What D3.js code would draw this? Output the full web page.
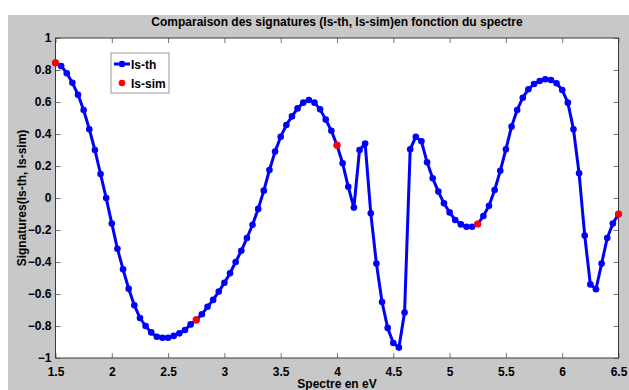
<!DOCTYPE html>
<html>
<head>
<meta charset="utf-8">
<script src="https://d3js.org/d3.v7.min.js"></script>
<style>
  body { margin: 0; background: #fff; }
  text { font-family: Arial, "Liberation Sans", Helvetica, sans-serif; font-weight: bold; }
</style>
</head>
<body>
<div id="chart"></div>
<script>
// spectre (eV) et signatures
var energies = [1.5, 1.55, 1.6, 1.65, 1.7, 1.75, 1.8, 1.85, 1.9, 1.95,
  2.0, 2.05, 2.1, 2.15, 2.2, 2.25, 2.3, 2.35, 2.4, 2.45,
  2.5, 2.55, 2.6, 2.65, 2.7, 2.75, 2.8, 2.85, 2.9, 2.95,
  3.0, 3.05, 3.1, 3.15, 3.2, 3.25, 3.3, 3.35, 3.4, 3.45,
  3.5, 3.55, 3.6, 3.65, 3.7, 3.75, 3.8, 3.85, 3.9, 3.95,
  4.0, 4.05, 4.1, 4.15, 4.2, 4.25, 4.3, 4.35, 4.4, 4.45,
  4.5, 4.55, 4.6, 4.65, 4.7, 4.75, 4.8, 4.85, 4.9, 4.95,
  5.0, 5.05, 5.1, 5.15, 5.2, 5.25, 5.3, 5.35, 5.4, 5.45,
  5.5, 5.55, 5.6, 5.65, 5.7, 5.75, 5.8, 5.85, 5.9, 5.95,
  6.0, 6.05, 6.1, 6.15, 6.2, 6.25, 6.3, 6.35, 6.4, 6.45, 6.5];

var isTh = [0.845, 0.825, 0.78, 0.72, 0.645, 0.55, 0.43, 0.30, 0.15, 0.0,
  -0.16, -0.317, -0.446, -0.567, -0.67, -0.75, -0.80, -0.84, -0.867, -0.873,
  -0.873, -0.862, -0.846, -0.825, -0.79, -0.762, -0.727, -0.68, -0.637, -0.585,
  -0.53, -0.47, -0.40, -0.33, -0.25, -0.167, -0.068, 0.046, 0.175, 0.29,
  0.383, 0.456, 0.51, 0.56, 0.596, 0.6125, 0.596, 0.554, 0.49, 0.42,
  0.33, 0.217, 0.07, -0.06, 0.30, 0.34, -0.096, -0.41, -0.65, -0.812,
  -0.906, -0.935, -0.716, 0.304, 0.383, 0.354, 0.223, 0.123, 0.04, -0.033,
  -0.09, -0.1375, -0.165, -0.18, -0.18, -0.1625, -0.1125, -0.048, 0.05, 0.17,
  0.304, 0.446, 0.55, 0.627, 0.68, 0.7125, 0.731, 0.742, 0.7375, 0.717,
  0.675, 0.596, 0.43, 0.154, -0.235, -0.54, -0.57, -0.41, -0.25, -0.16, -0.10];

var simEnergies = [1.5, 2.75, 4.0, 5.25, 6.5];
var isSim = [0.845, -0.762, 0.33, -0.1625, -0.10];

var xTicks = [1.5, 2, 2.5, 3, 3.5, 4, 4.5, 5, 5.5, 6, 6.5];
var yTicks = [-1, -0.8, -0.6, -0.4, -0.2, 0, 0.2, 0.4, 0.6, 0.8, 1];

var W = 629, H = 390;
var margin = {top: 38, right: 10.5, bottom: 32, left: 55.5},
    width = W - margin.left - margin.right,
    height = H - margin.top - margin.bottom;

var svg = d3.select("#chart").append("svg")
    .attr("width", W)
    .attr("height", H);

// fond gris de la figure
svg.append("rect")
    .attr("x", 8).attr("y", 15)
    .attr("width", W - 8).attr("height", H - 15)
    .style("fill", "#c8c8c8");

var g = svg.append("g")
    .attr("transform", "translate(" + margin.left + "," + margin.top + ")");

g.append("rect")
    .attr("width", width).attr("height", height)
    .style("fill", "#fff");

var x = d3.scaleLinear().domain([1.5, 6.5]).range([0, width]);
var y = d3.scaleLinear().domain([-1, 1]).range([height, 0]);

var fmt = function(d) { return d3.format("")(d); };

// axes (ticks vers l'interieur, comme matlab)
var xb = g.append("g")
    .attr("transform", "translate(0," + height + ")")
    .call(d3.axisBottom(x).tickValues(xTicks).tickSize(-5).tickPadding(9).tickFormat(fmt));
var xt = g.append("g")
    .call(d3.axisTop(x).tickValues(xTicks).tickSize(-5).tickFormat(""));
var yl = g.append("g")
    .call(d3.axisLeft(y).tickValues(yTicks).tickSize(-5).tickPadding(4).tickFormat(fmt));
var yr = g.append("g")
    .attr("transform", "translate(" + width + ",0)")
    .call(d3.axisRight(y).tickValues(yTicks).tickSize(-5).tickFormat(""));

g.selectAll(".domain").remove();
g.selectAll(".tick line").attr("stroke", "#777");
g.selectAll(".tick text")
    .style("font-size", "12px")
    .style("font-weight", "bold")
    .attr("fill", "#000");

g.append("rect")
    .attr("width", width).attr("height", height)
    .style("fill", "none")
    .style("stroke", "#3a3a3a")
    .style("stroke-width", 1);

// courbe Is-th
var pts = energies.map(function(e, i) { return {x: e, y: isTh[i]}; });

g.append("path")
    .datum(pts)
    .attr("fill", "none")
    .attr("stroke", "#0000ff")
    .attr("stroke-width", 3)
    .attr("stroke-linejoin", "round")
    .attr("d", d3.line()
      .x(function(d) { return x(d.x); })
      .y(function(d) { return y(d.y); }));

g.selectAll(".th-dot")
    .data(pts)
  .enter().append("circle")
    .attr("class", "th-dot")
    .attr("cx", function(d) { return x(d.x); })
    .attr("cy", function(d) { return y(d.y); })
    .attr("r", 3.3)
    .style("fill", "#0000ff");

// points Is-sim
g.selectAll(".sim-dot")
    .data(simEnergies)
  .enter().append("circle")
    .attr("class", "sim-dot")
    .attr("cx", function(d) { return x(d); })
    .attr("cy", function(d, i) { return y(isSim[i]); })
    .attr("r", 3.6)
    .style("fill", "#ff0000");

// titre et libelles
svg.append("text")
    .attr("x", margin.left + width / 2).attr("y", 26)
    .attr("text-anchor", "middle")
    .style("font-size", "12px")
    .text("Comparaison des signatures (Is-th, Is-sim)en fonction du spectre");

svg.append("text")
    .attr("x", margin.left + width / 2).attr("y", 388)
    .attr("text-anchor", "middle")
    .style("font-size", "12px")
    .text("Spectre en eV");

svg.append("text")
    .attr("transform", "translate(26," + (margin.top + height / 2) + ") rotate(-90)")
    .attr("text-anchor", "middle")
    .style("font-size", "12px")
    .text("Signatures(Is-th, Is-sim)");

// legende
var leg = svg.append("g").attr("transform", "translate(111,53)");
leg.append("rect")
    .attr("width", 58).attr("height", 40)
    .style("fill", "#fff")
    .style("stroke", "#999");
leg.append("line")
    .attr("x1", 3).attr("x2", 19).attr("y1", 11).attr("y2", 11)
    .attr("stroke", "#0000ff").attr("stroke-width", 3);
leg.append("circle")
    .attr("cx", 11).attr("cy", 11).attr("r", 3.3)
    .style("fill", "#0000ff");
leg.append("circle")
    .attr("cx", 11).attr("cy", 30).attr("r", 3.3)
    .style("fill", "#ff0000");
leg.append("text")
    .attr("x", 20).attr("y", 15.5)
    .style("font-size", "12px")
    .text("Is-th");
leg.append("text")
    .attr("x", 20).attr("y", 34.5)
    .style("font-size", "12px")
    .text("Is-sim");
</script>
</body>
</html>
